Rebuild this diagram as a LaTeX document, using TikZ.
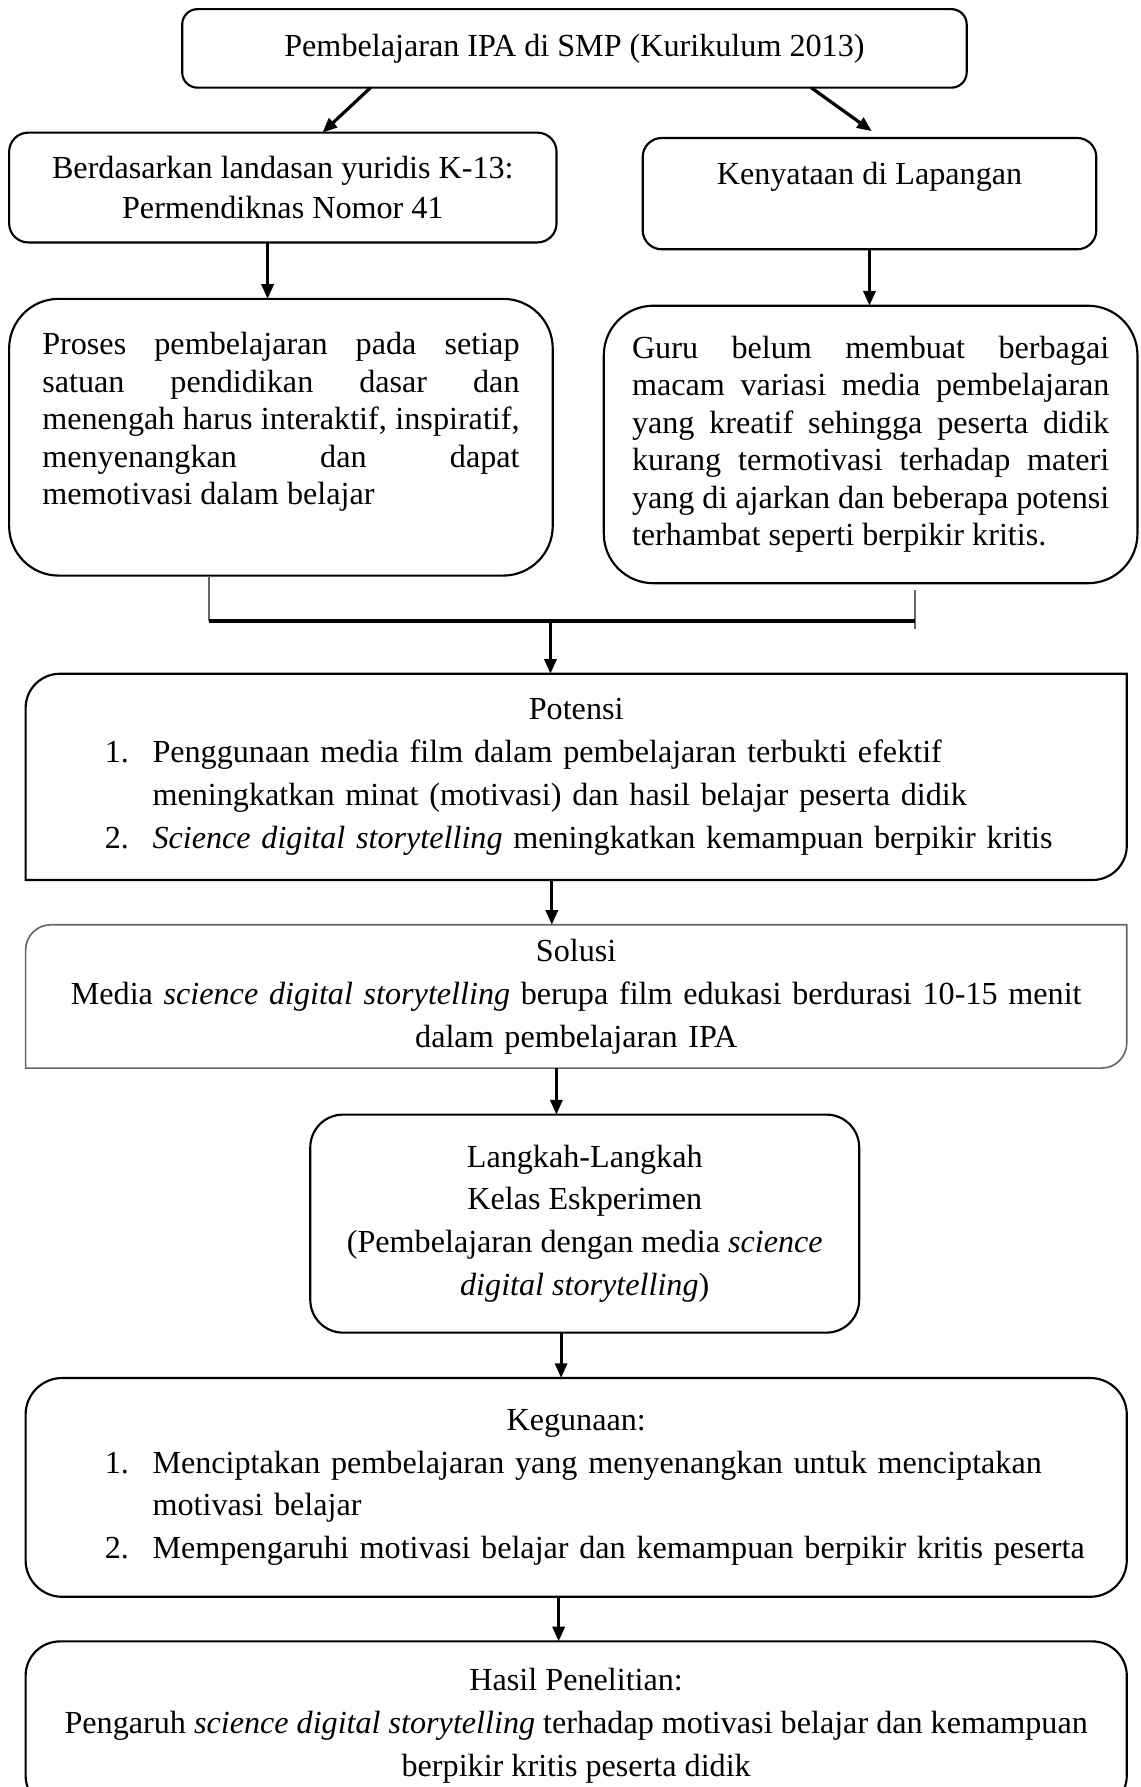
\documentclass[tikz,border=0pt]{standalone}
\usepackage{fontspec}
\setmainfont{Liberation Serif}
\usepackage{tikz}
\usetikzlibrary{positioning,arrows.meta}
\definecolor{lineGray}{gray}{0.4}

\begin{document}
\begin{tikzpicture}[>={Triangle[length=5.5pt,width=4.5pt]},
		font=\fontsize{12}{16}\selectfont,
		roundbox/.style={draw,line width=0.8pt,rounded corners=#1,inner sep=0pt,outer sep=0pt,align=center},
		roundbox/.default=0.25cm,
		flatbox/.style={inner sep=0pt,outer sep=0pt,minimum width=14.444cm,text width=14.444cm},
		arr/.style={->,line width=1.2pt}]
		%\draw[help lines] (0,0) grid (15,-24);
		\useasboundingbox (0,0) rectangle (14.96,-23.44);
		\clip (0,0) rectangle (14.96,-23.44);
		% top row
		\node[roundbox=0.2cm,minimum width=10.29cm,minimum height=1.03cm] (top) at (7.535,-0.635) {Pembelajaran IPA di SMP (Kurikulum 2013)};
		\node[roundbox,minimum width=7.18cm,minimum height=1.44cm,font=\fontsize{12}{15}\selectfont] (yuridis) at (3.71,-2.46) {Berdasarkan landasan yuridis K-13:\\Permendiknas Nomor 41};
		\node[roundbox,minimum width=5.95cm,minimum height=1.46cm,font=\fontsize{12}{15}\selectfont] (lapangan) at (11.405,-2.54) {Kenyataan di Lapangan\\\mbox{}};
		% justified boxes
		\node[roundbox=0.65cm,minimum width=7.13cm,minimum height=3.63cm,text width=6.26cm,align=justify,font={\fontsize{12}{14}\selectfont\tolerance=10000}] (proses) at (3.685,-5.735) {Proses pembelajaran pada setiap\linebreak satuan pendidikan dasar dan\linebreak menengah harus interaktif, inspiratif,\linebreak menyenangkan dan dapat\linebreak memotivasi dalam belajar\\\mbox{}};
		\node[roundbox=0.65cm,minimum width=7.0cm,minimum height=3.64cm,text width=6.26cm,align=justify,font={\fontsize{12}{14}\selectfont\tolerance=10000}] (guru) at (11.42,-5.83) {Guru belum membuat berbagai\linebreak macam variasi media pembelajaran\linebreak yang kreatif sehingga peserta didik\linebreak kurang termotivasi terhadap materi\linebreak yang di ajarkan dan beberapa potensi\linebreak terhambat seperti berpikir kritis.};
		% joining line
		\coordinate (jl) at (2.74,-8.15);
		\coordinate (jr) at (12.00,-8.15);
		\coordinate (ja) at (7.22,-8.15);
		\coordinate (jrtop) at (12.00,-7.74);
		\coordinate (jrend) at (12.00,-8.25);
		\draw[lineGray,line width=0.5pt] (jl |- proses.south) -- (jl);
		\draw[lineGray,line width=0.5pt] (jrtop) -- (jrend);
		\draw[line width=1.5pt] (jl) -- (jr);
		% potensi and solusi
		\node[flatbox,minimum height=2.705cm,align=left] (potensi) at (7.558,-10.19) {\makebox[14.444cm]{Potensi}\\
			\hspace*{1.04cm}\makebox[0.625cm][l]{1.}Penggunaan media film dalam pembelajaran terbukti efektif\\
			\hspace*{1.665cm}meningkatkan minat (motivasi) dan hasil belajar peserta didik\\
			\hspace*{1.04cm}\makebox[0.625cm][l]{2.}\textit{Science digital storytelling} meningkatkan kemampuan berpikir kritis};
		\draw[line width=0.8pt] (potensi.north east) -- ([xshift=0.45cm]potensi.north west) arc[start angle=90,end angle=180,radius=0.45cm] -- (potensi.south west) -- ([xshift=-0.45cm]potensi.south east) arc[start angle=270,end angle=360,radius=0.45cm] -- cycle;
		\node[flatbox,minimum height=1.88cm,align=center] (solusi) at (7.558,-13.07) {Solusi\\Media \textit{science digital storytelling} berupa film edukasi berdurasi 10-15 menit\\dalam pembelajaran IPA};
		\draw[lineGray,line width=0.6pt] (solusi.north east) -- ([xshift=0.33cm]solusi.north west) arc[start angle=90,end angle=180,radius=0.33cm] -- (solusi.south west) -- ([xshift=-0.33cm]solusi.south east) arc[start angle=270,end angle=360,radius=0.33cm] -- cycle;
		% lower boxes
		\node[roundbox=0.43cm,minimum width=7.2cm,minimum height=2.86cm] (langkah) at (7.67,-16.05) {Langkah-Langkah\\Kelas Eskperimen\\(Pembelajaran dengan media \textit{science}\\\textit{digital storytelling})};
		\node[roundbox=0.48cm,minimum width=14.444cm,minimum height=2.87cm,text width=14.444cm,align=left] (guna) at (7.558,-19.51) {\makebox[14.444cm]{Kegunaan:}\\
			\hspace*{1.04cm}\makebox[0.625cm][l]{1.}Menciptakan pembelajaran yang menyenangkan untuk menciptakan\\
			\hspace*{1.665cm}motivasi belajar\\
			\hspace*{1.04cm}\makebox[0.625cm][l]{2.}Mempengaruhi motivasi belajar dan kemampuan berpikir kritis peserta};
		\node[roundbox=0.45cm,minimum width=14.444cm,minimum height=2.21cm] (hasil) at (7.558,-22.635) {Hasil Penelitian:\\Pengaruh \textit{science digital storytelling} terhadap motivasi belajar dan kemampuan\\berpikir kritis peserta didik};
		% arrows
		\draw[arr] ([xshift=-2.675cm]top.south) -- ([xshift=0.52cm]yuridis.north);
		\draw[arr] ([xshift=3.105cm]top.south) -- ([xshift=0.03cm,yshift=0.09cm]lapangan.north);
		\draw[arr] ([xshift=-0.2cm]yuridis.south) -- ([xshift=-0.2cm]yuridis.south |- proses.north);
		\draw[arr] (lapangan.south) -- (lapangan.south |- guru.north);
		\draw[arr] (ja) -- (ja |- potensi.north);
		\draw[arr] ([xshift=-0.32cm]potensi.south) -- ([xshift=-0.32cm]solusi.north);
		\draw[arr] ([xshift=-0.26cm]solusi.south) -- ([xshift=-0.26cm]solusi.south |- langkah.north);
		\draw[arr] ([xshift=-0.31cm]langkah.south) -- ([xshift=-0.31cm]langkah.south |- guna.north);
		\draw[arr] ([xshift=-0.23cm]guna.south) -- ([xshift=-0.23cm]hasil.north);
\end{tikzpicture}
\end{document}
